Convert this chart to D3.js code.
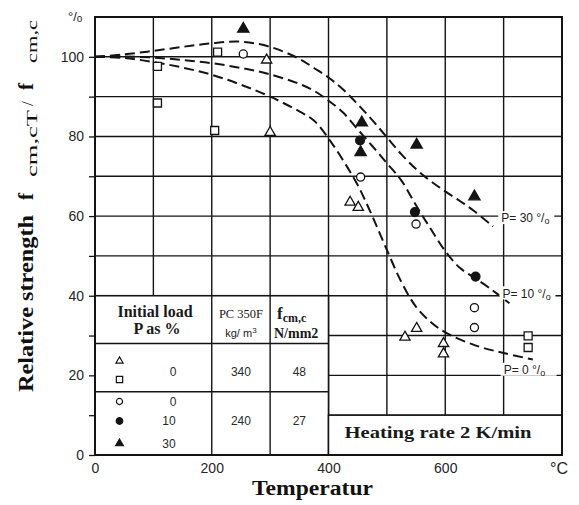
<!DOCTYPE html>
<html>
<head>
<meta charset="utf-8">
<script src="https://cdn.jsdelivr.net/npm/d3@7"></script>
<style>
  html, body { margin: 0; padding: 0; background: #fff; }
  svg { display: block; }
  .serif { font-family: "Liberation Serif", "DejaVu Serif", serif; }
  .sans { font-family: "Liberation Sans", "DejaVu Sans", sans-serif; }
</style>
</head>
<body>
<div id="chart"></div>
<script>
// Temperature axis (°C) and relative strength axis (%)
const xTickLabels = [0, 200, 400, 600];
const yTickLabels = [0, 20, 40, 60, 80, 100];
const xGrid = [100, 200, 300, 400, 500, 600, 700];
const yGrid = [10, 20, 30, 40, 50, 60, 70, 80, 90, 100];

// Fitted curves for each initial load level [temperature, relative strength]
const curveP0 = [[0,100],[50,99.7],[100,98.7],[150,97.3],[200,95.5],[250,93],[300,90],[350,86.3],[375,84],[400,79.5],[425,74],[450,67.8],[475,60],[500,51.5],[525,43.4],[550,37.2],[575,33.4],[600,30.8],[650,27.6],[700,25.6],[750,24]];
const curveP10 = [[0,100],[50,100.1],[100,99.8],[150,99.2],[200,98.4],[250,97.2],[300,95.6],[350,93.2],[375,91.5],[400,89],[425,86],[450,81.8],[475,77.6],[500,73.3],[525,68.9],[550,62.7],[575,56.8],[600,51.2],[625,47],[650,44.5],[675,42],[710,38.1]];
const curveP30 = [[0,100],[50,100.6],[100,101.5],[150,102.5],[200,103.4],[250,103.8],[300,102.5],[350,99.5],[375,97.2],[400,94.8],[425,91.8],[450,88.1],[475,84.1],[500,79.8],[525,75.5],[550,71.8],[575,68.8],[600,66.2],[625,63.8],[650,61.2],[682,57.4]];

// Curve labels: [load in %, temperature, strength]
const curveLabels = [["30", 696, 59.5], ["10", 698, 40.6], ["0", 700, 21.4]];

// Measured values
const openTriangles  = [[294,99.2],[300,81],[437,63.5],[451,62.2],[531,29.6],[551,31.8],[597,28],[597,25.4]];
const openSquares    = [[107,97.6],[107,88.4],[210,101.2],[205,81.5],[742,29.9],[742,27]];
const openCircles    = [[254,100.7],[455,69.8],[550,58],[650,37],[650,32]];
const filledCircles  = [[454,79],[548,61],[652,44.8]];
const filledTriangles= [[254,107],[457,83.5],[455,76],[551,77.9],[650,64.9]];

// Legend table contents
const tableHeader1 = ["Initial load", "P as %"];
const tableRow1 = { loads: ["0"], density: "340", strength: "48" };
const tableRow2 = { loads: ["0", "10", "30"], density: "240", strength: "27" };

const W = 579, H = 505;
const svg = d3.select("#chart").append("svg").attr("width", W).attr("height", H);

const x = d3.scaleLinear().domain([0, 800]).range([95, 562]);
const y = d3.scaleLinear().domain([0, 110]).range([455, 17]);

const ink = "#141414";

// grid
const grid = svg.append("g").attr("stroke", ink).attr("stroke-width", 1.4);
grid.selectAll("line.v").data(xGrid).join("line")
  .attr("x1", d => x(d)).attr("x2", d => x(d)).attr("y1", y(110)).attr("y2", y(0));
grid.selectAll("line.h").data(yGrid).join("line")
  .attr("x1", x(0)).attr("x2", x(800)).attr("y1", d => y(d)).attr("y2", d => y(d));

// y axis ticks and labels
const yAxis = d3.axisLeft(y).tickValues(yGrid.concat([0]))
  .tickSize(6).tickPadding(5)
  .tickFormat(d => yTickLabels.includes(d) ? d : "");
const gy = svg.append("g").attr("transform", `translate(${x(0)},0)`).call(yAxis);
gy.select(".domain").remove();
gy.selectAll(".tick line").attr("stroke", ink).attr("stroke-width", 1.3);
gy.selectAll(".tick text").attr("class", "sans").attr("font-size", 14).attr("fill", "#262626");

// x axis labels
const xAxis = d3.axisBottom(x).tickValues(xTickLabels).tickSize(0).tickPadding(8);
const gx = svg.append("g").attr("transform", `translate(0,${y(0)})`).call(xAxis);
gx.select(".domain").remove();
gx.selectAll(".tick text").attr("class", "sans").attr("font-size", 14).attr("fill", "#262626");

// dashed curves
const line = d3.line().x(d => x(d[0])).y(d => y(d[1])).curve(d3.curveCatmullRom.alpha(0.5));
svg.append("g").selectAll("path").data([curveP0, curveP10, curveP30]).join("path")
  .attr("d", line).attr("fill", "none").attr("stroke", ink)
  .attr("stroke-width", 2).attr("stroke-dasharray", "10,5");

// curve labels
const lab = svg.append("g");
curveLabels.forEach(([p, t, v]) => {
  const g = lab.append("g").attr("transform", `translate(${x(t)},${y(v)})`);
  g.append("rect").attr("x", -3).attr("y", -7).attr("width", 56).attr("height", 13).attr("fill", "#fff");
  const tx = g.append("text").attr("class", "sans").attr("font-size", 12).attr("fill", "#222")
    .attr("dy", "0.35em");
  tx.append("tspan").text("P= " + p + " °");
  tx.append("tspan").text("/");
  tx.append("tspan").attr("font-size", 9).attr("dy", 2).text("o");
});

// markers
function markers(data, type, size, filled) {
  svg.append("g").selectAll("path").data(data).join("path")
    .attr("transform", d => `translate(${x(d[0])},${y(d[1])})`)
    .attr("d", d3.symbol().type(type).size(size))
    .attr("fill", filled ? ink : "#fff")
    .attr("stroke", ink).attr("stroke-width", 1.3);
}
markers(openTriangles, d3.symbolTriangle, 46, false);
markers(openSquares, d3.symbolSquare, 64, false);
markers(openCircles, d3.symbolCircle, 52, false);
markers(filledCircles, d3.symbolCircle, 60, true);
markers(filledTriangles, d3.symbolTriangle, 55, true);

// legend table
const tL = x(0), tR = x(400), tT = y(40), tB = y(0);
const c1 = x(200), c2 = x(300);
const hdr = 343.5, row = 391.7;
const tbl = svg.append("g");
tbl.append("rect").attr("x", tL).attr("y", tT).attr("width", tR - tL).attr("height", tB - tT)
  .attr("fill", "#fff").attr("stroke", ink).attr("stroke-width", 1.6);
[[c1, tT, c1, tB], [c2, tT, c2, tB], [tL, hdr, tR, hdr], [tL, row, tR, row]].forEach(s => {
  tbl.append("line").attr("x1", s[0]).attr("y1", s[1]).attr("x2", s[2]).attr("y2", s[3])
    .attr("stroke", ink).attr("stroke-width", 1.4);
});
tbl.append("text").attr("class", "serif").attr("font-weight", "bold").attr("font-size", 16)
  .attr("text-anchor", "middle").attr("x", 155).attr("y", 317).attr("fill", "#1a1a1a").text(tableHeader1[0]);
tbl.append("text").attr("class", "serif").attr("font-weight", "bold").attr("font-size", 16)
  .attr("text-anchor", "middle").attr("x", 157).attr("y", 334).attr("fill", "#1a1a1a").text(tableHeader1[1]);
tbl.append("text").attr("class", "serif").attr("font-size", 12.5)
  .attr("text-anchor", "middle").attr("x", (c1 + c2) / 2).attr("y", 318).attr("fill", "#1a1a1a").text("PC 350F");
const kg = tbl.append("text").attr("class", "sans").attr("font-size", 11)
  .attr("text-anchor", "middle").attr("x", (c1 + c2) / 2).attr("y", 337).attr("fill", "#222");
kg.append("tspan").text("kg/ m");
kg.append("tspan").attr("font-size", 8).attr("dy", -4).text("3");
const fh = tbl.append("text").attr("class", "serif").attr("font-weight", "bold").attr("font-size", 17)
  .attr("x", 277).attr("y", 319).attr("fill", "#1a1a1a");
fh.append("tspan").text("f");
fh.append("tspan").attr("font-size", 12).attr("dy", 3).text("cm,c");
tbl.append("text").attr("class", "serif").attr("font-weight", "bold").attr("font-size", 14)
  .attr("x", 274).attr("y", 338).attr("fill", "#1a1a1a").text("N/mm2");

// table body
const bodyText = (t, cx, cy) => tbl.append("text").attr("class", "sans").attr("font-size", 12)
  .attr("text-anchor", "middle").attr("x", cx).attr("y", cy).attr("dy", "0.35em").attr("fill", "#2a2a2a").text(t);
const symX = 119.5;
const legSym = (type, size, filled, cy) => tbl.append("path")
  .attr("transform", `translate(${symX},${cy})`).attr("d", d3.symbol().type(type).size(size))
  .attr("fill", filled ? ink : "#fff").attr("stroke", ink).attr("stroke-width", 1.2);
legSym(d3.symbolTriangle, 22, false, 361);
legSym(d3.symbolSquare, 40, false, 379.5);
bodyText(tableRow1.loads[0], 173, 371.5);
bodyText(tableRow1.density, (c1 + c2) / 2, 371.5);
bodyText(tableRow1.strength, (c2 + tR) / 2, 371.5);
legSym(d3.symbolCircle, 30, false, 401.5);
legSym(d3.symbolCircle, 34, true, 421);
legSym(d3.symbolTriangle, 26, true, 443.5);
bodyText(tableRow2.loads[0], 173, 401.5);
bodyText(tableRow2.loads[1], 169, 421);
bodyText(tableRow2.loads[2], 169, 443.5);
bodyText(tableRow2.density, (c1 + c2) / 2, 421);
bodyText(tableRow2.strength, (c2 + tR) / 2, 421);

// heating rate box
svg.append("rect").attr("x", x(400)).attr("y", y(10)).attr("width", x(800) - x(400)).attr("height", y(0) - y(10))
  .attr("fill", "#fff").attr("stroke", ink).attr("stroke-width", 1.5);
svg.append("text").attr("class", "serif").attr("font-weight", "bold").attr("font-size", 17)
  .attr("text-anchor", "middle").attr("x", 438).attr("y", 437.5).attr("fill", "#1a1a1a")
  .attr("textLength", 187).attr("lengthAdjust", "spacingAndGlyphs").text("Heating rate 2 K/min");

// plot frame
svg.append("rect").attr("x", x(0)).attr("y", y(110)).attr("width", x(800) - x(0)).attr("height", y(0) - y(110))
  .attr("fill", "none").attr("stroke", ink).attr("stroke-width", 2);

// unit labels
const pct = svg.append("text").attr("class", "sans").attr("font-size", 13).attr("x", 68).attr("y", 21).attr("fill", "#222");
pct.append("tspan").text("°/");
pct.append("tspan").attr("font-size", 10).attr("dy", 1).text("o");
svg.append("text").attr("class", "sans").attr("font-size", 16).attr("x", 550).attr("y", 474).attr("fill", "#222").text("°C");

// axis titles
svg.append("text").attr("class", "serif").attr("font-weight", "bold").attr("font-size", 20)
  .attr("text-anchor", "middle").attr("x", 312.5).attr("y", 495).attr("fill", "#111")
  .attr("textLength", 121).attr("lengthAdjust", "spacingAndGlyphs").text("Temperatur");

const yt = svg.append("g").attr("transform", "translate(33,392) rotate(-90)");
yt.append("text").attr("class", "serif").attr("font-weight", "bold").attr("font-size", 21)
  .attr("x", 0).attr("y", 0).attr("fill", "#111")
  .attr("textLength", 177).attr("lengthAdjust", "spacingAndGlyphs").text("Relative strength");
const ysub = (t, from, to, size, dy, bold) => {
  const el = yt.append("text").attr("class", "serif").attr("font-size", size)
    .attr("font-weight", bold ? "bold" : "normal")
    .attr("x", from).attr("y", dy).attr("fill", "#111").text(t);
  if (to !== null) el.attr("textLength", to - from).attr("lengthAdjust", "spacingAndGlyphs");
  return el;
};
ysub("f", 192, null, 21, 0, true);
ysub("cm,cT", 215, 282, 15, 4, false);
ysub("/", 286, null, 17, 0, false);
ysub("f", 302, null, 21, 0, true);
ysub("cm,c", 329, 372, 15, 4, false);
</script>
</body>
</html>
